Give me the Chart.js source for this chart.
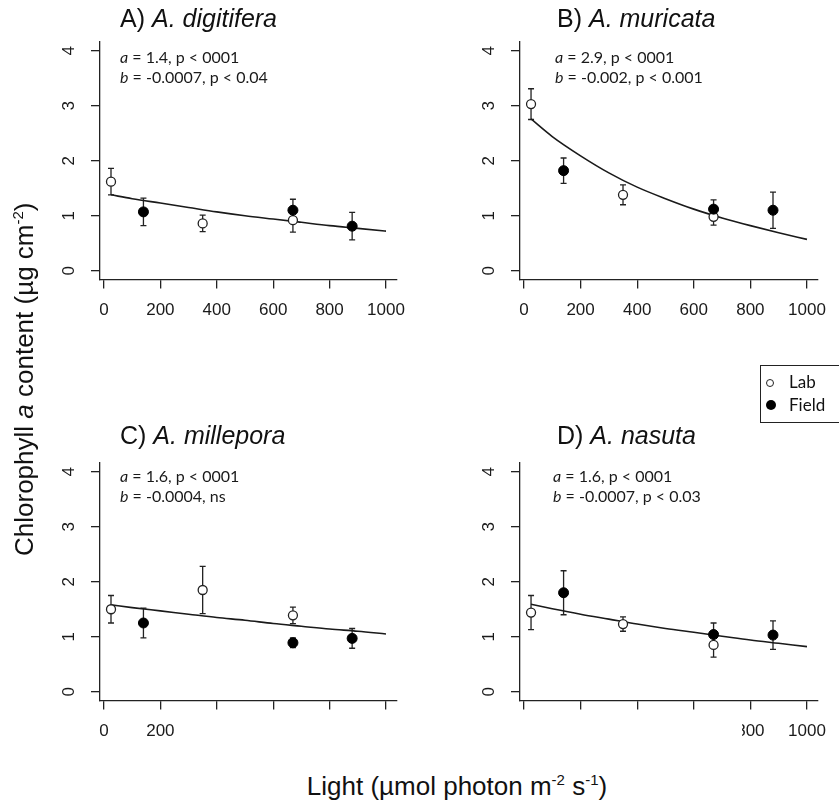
<!DOCTYPE html>
<html>
<head>
<meta charset="utf-8">
<script src="https://cdn.jsdelivr.net/npm/chart.js@4.4.1/dist/chart.umd.min.js"></script>
<style>
  body { margin: 0; background: #fff; }
  #fig { position: relative; width: 839px; height: 807px; overflow: hidden;
         font-family: 'Liberation Sans', Arial, sans-serif; color: #111; }
  canvas { position: absolute; }
  .title { position: absolute; font-size: 25px; line-height: 25px; white-space: nowrap; }
  .note  { position: absolute; font-family: Lato, 'Open Sans', sans-serif; font-size: 16px;
           line-height: 20px; white-space: nowrap; color: #1a1a1a; }
  .axis-label { position: absolute; font-size: 26px; line-height: 26px; white-space: nowrap; }
  .axis-label sup { font-size: 15px; line-height: 0; vertical-align: 10px; }
  #ylab { transform: rotate(-90deg); transform-origin: 0 0; }
  #xlab { transform: translateX(-50%); }
  .legend { position: absolute; left: 760px; top: 365px; width: 90px; height: 56px;
            border: 1.3px solid #222; font-family: Lato, 'Open Sans', sans-serif; font-size: 17px; }
  .legend .item { position: absolute; left: 5px; white-space: nowrap; line-height: 20px; }
  .legend .dot { display: inline-block; width: 8px; height: 8px; border-radius: 50%;
                 box-sizing: border-box; margin-right: 15px; vertical-align: 1px; }
  .legend .lab  { border: 1.3px solid #222; background: #fff; }
  .legend .field { background: #000; width: 10px; height: 10px; margin-right: 13px; }
  .cover { position: absolute; background: #fff; }
</style>
</head>
<body>
<div id="fig">
  <canvas id="chartA" width="420" height="330" style="left:0;top:0"></canvas>
  <canvas id="chartB" width="419" height="330" style="left:420px;top:0"></canvas>
  <canvas id="chartC" width="420" height="330" style="left:0;top:421px"></canvas>
  <canvas id="chartD" width="419" height="330" style="left:420px;top:421px"></canvas>

  <div class="title" style="left:120px;top:6px">A) <i>A. digitifera</i></div>
  <div class="title" style="left:557px;top:6px">B) <i>A. muricata</i></div>
  <div class="title" style="left:120px;top:423px">C) <i>A. millepora</i></div>
  <div class="title" style="left:557px;top:423px">D) <i>A. nasuta</i></div>

  <div class="note" style="left:120px;top:47px"><i>a</i> = 1.4, p &lt; 0001<br><i>b</i> = -0.0007, p &lt; 0.04</div>
  <div class="note" style="left:555px;top:47px"><i>a</i> = 2.9, p &lt; 0001<br><i>b</i> = -0.002, p &lt; 0.001</div>
  <div class="note" style="left:120px;top:466px"><i>a</i> = 1.6, p &lt; 0001<br><i>b</i> = -0.0004, ns</div>
  <div class="note" style="left:553px;top:466px"><i>a</i> = 1.6, p &lt; 0001<br><i>b</i> = -0.0007, p &lt; 0.03</div>

  <div class="legend">
    <div class="item" style="top:6px"><span class="dot lab"></span>Lab</div>
    <div class="item" style="top:29px"><span class="dot field"></span>Field</div>
  </div>

  <div id="ylab" class="axis-label" style="left:11px;top:556px">Chlorophyll <i>a</i> content (µg cm<sup>-2</sup>)</div>
  <div id="xlab" class="axis-label" style="left:457px;top:773px">Light (µmol photon m<sup>-2</sup> s<sup>-1</sup>)</div>
</div>

<script>
// ── DATA ─────────────────────────────────────────────────────
const xTicks = [0, 200, 400, 600, 800, 1000];
const yTicks = [0, 1, 2, 3, 4];
const xLabelsFull = ['0', '200', '400', '600', '800', '1000'];
const xLabelsC = ['0', '200', '', '', '', ''];
const xLabelsD = ['', '', '', '', '800', '1000'];

const labLight   = [25, 350, 670];
const fieldLight = [140, 670, 880];

const labA = [1.62, 0.86, 0.92],  labErrA = [0.24, 0.15, 0.22];
const fieldA = [1.07, 1.10, 0.81], fieldErrA = [0.25, 0.20, 0.25];
const labB = [3.03, 1.38, 0.98],  labErrB = [0.28, 0.18, 0.15];
const fieldB = [1.82, 1.12, 1.10], fieldErrB = [0.23, 0.17, 0.33];
const labC = [1.50, 1.85, 1.39],  labErrC = [0.25, 0.43, 0.15];
const fieldC = [1.25, 0.89, 0.97], fieldErrC = [0.27, 0.09, 0.18];
const labD = [1.44, 1.23, 0.85],  labErrD = [0.31, 0.13, 0.22];
const fieldD = [1.80, 1.04, 1.03], fieldErrD = [0.40, 0.21, 0.26];

// fitted curves
const fitLight = [25, 100, 200, 300, 400, 500, 600, 700, 800, 900, 1000];
const fitA = [1.38, 1.31, 1.23, 1.15, 1.07, 1.00, 0.94, 0.88, 0.82, 0.77, 0.72];
const fitB = [2.76, 2.44, 2.09, 1.78, 1.52, 1.31, 1.12, 0.96, 0.82, 0.69, 0.57];
const fitC = [1.58, 1.53, 1.47, 1.41, 1.35, 1.30, 1.24, 1.19, 1.14, 1.10, 1.05];
const fitD = [1.59, 1.51, 1.41, 1.32, 1.23, 1.15, 1.08, 1.01, 0.94, 0.88, 0.82];

// ── ERROR BARS ───────────────────────────────────────────────
const errorBars = {
  id: 'errorBars',
  beforeDatasetsDraw(chart) {
    const { ctx, scales: { x, y } } = chart;
    ctx.save();
    ctx.strokeStyle = '#222';
    ctx.lineWidth = 1.3;
    chart.data.datasets.forEach(ds => {
      if (!ds.errors) return;
      ds.data.forEach((p, i) => {
        const px = x.getPixelForValue(p.x);
        const top = y.getPixelForValue(p.y + ds.errors[i]);
        const bot = y.getPixelForValue(p.y - ds.errors[i]);
        ctx.beginPath();
        ctx.moveTo(px, top); ctx.lineTo(px, bot);
        ctx.moveTo(px - 3, top); ctx.lineTo(px + 3, top);
        ctx.moveTo(px - 3, bot); ctx.lineTo(px + 3, bot);
        ctx.stroke();
      });
    });
    ctx.restore();
  }
};

const pts = (xs, ys) => xs.map((v, i) => ({ x: v, y: ys[i] }));

function makePanel(id, lab, labErr, field, fieldErr, fit, xLabels, rightPad) {
  const axisColor = '#222';
  return new Chart(document.getElementById(id), {
    type: 'scatter',
    data: {
      datasets: [
        { label: 'Field', data: pts(fieldLight, field), errors: fieldErr,
          pointRadius: 5, backgroundColor: '#000', borderColor: '#000', borderWidth: 1 },
        { label: 'Lab', data: pts(labLight, lab), errors: labErr,
          pointRadius: 4.5, backgroundColor: '#fff', borderColor: '#222', borderWidth: 1.3 },
        { label: 'fit', data: pts(fitLight, fit), showLine: true, pointRadius: 0,
          borderColor: '#1a1a1a', borderWidth: 1.6, cubicInterpolationMode: 'monotone' },
      ]
    },
    options: {
      responsive: false,
      animation: false,
      devicePixelRatio: 1,
      layout: { padding: { top: 42, right: rightPad, left: 0, bottom: 0 } },
      plugins: { legend: { display: false }, tooltip: { enabled: false } },
      scales: {
        x: {
          type: 'linear', min: -14, max: 1039,
          afterBuildTicks: s => { s.ticks = xTicks.map(v => ({ value: v })); },
          afterFit: s => { s.height = 50.5; },
          grid: { drawOnChartArea: false, tickLength: 9, color: axisColor, lineWidth: 1.3 },
          border: { color: axisColor, width: 1.3 },
          ticks: {
            autoSkip: false, maxRotation: 0, padding: 12, color: '#1a1a1a',
            font: { family: "'Liberation Sans', Arial, sans-serif", size: 17 },
            callback: (v, i) => xLabels[i]
          }
        },
        y: {
          type: 'linear', min: -0.16, max: 4.16,
          afterBuildTicks: s => { s.ticks = yTicks.map(v => ({ value: v })); },
          afterFit: s => { s.width = 100; },
          grid: { drawOnChartArea: false, tickLength: 9, color: axisColor, lineWidth: 1.3 },
          border: { color: axisColor, width: 1.3 },
          ticks: {
            minRotation: 90, maxRotation: 90, crossAlign: 'center', padding: 17,
            color: '#1a1a1a',
            font: { family: "'Liberation Sans', Arial, sans-serif", size: 17 }
          }
        }
      }
    },
    plugins: [errorBars]
  });
}

makePanel('chartA', labA, labErrA, fieldA, fieldErrA, fitA, xLabelsFull, 23);
makePanel('chartB', labB, labErrB, fieldB, fieldErrB, fitB, xLabelsFull, 21);
makePanel('chartC', labC, labErrC, fieldC, fieldErrC, fitC, xLabelsC, 23);
makePanel('chartD', labD, labErrD, fieldD, fieldErrD, fitD, xLabelsD, 21);
</script>
<!-- the first digit of "800" in panel D is cut away in the original -->
<div class="cover" style="left:735px;top:721px;width:7px;height:22px;position:absolute"></div>
</body>
</html>
